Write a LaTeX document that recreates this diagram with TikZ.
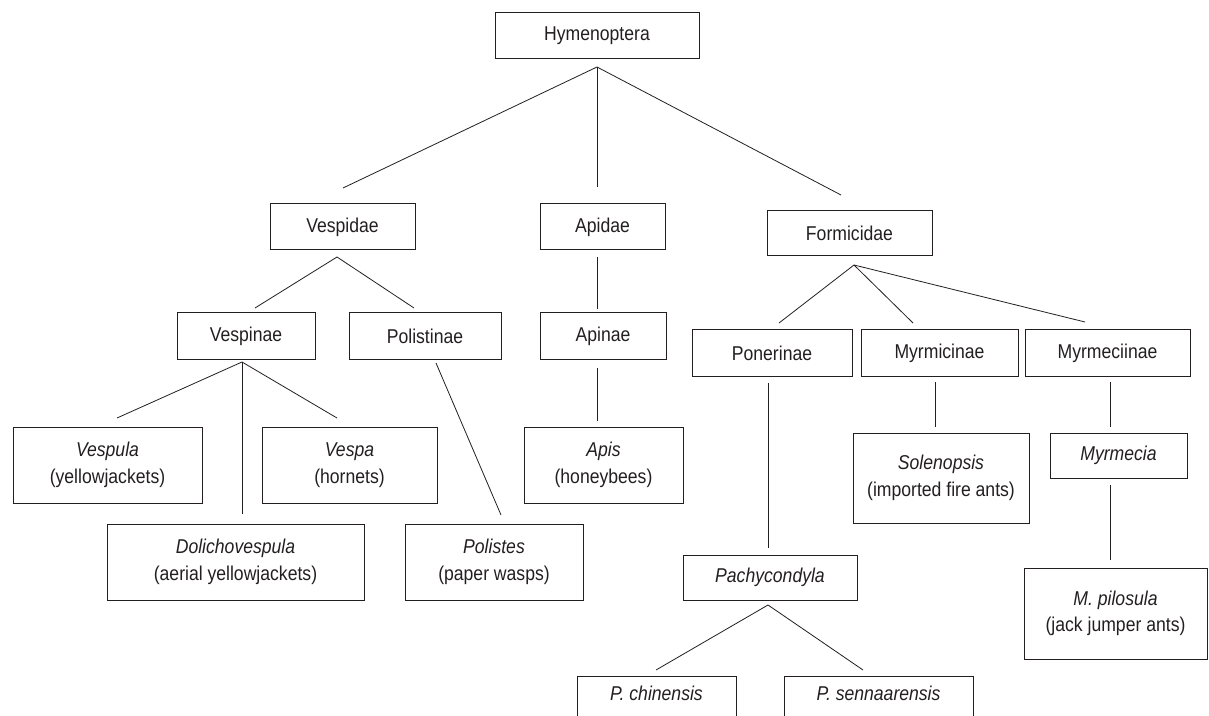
\documentclass[tikz,border=0pt]{standalone}
\usepackage{fontspec}
\setmainfont{Liberation Sans}[FakeStretch=0.88]
\usetikzlibrary{calc}
\definecolor{ink}{HTML}{231F20}
\newcommand\bx[6]{\node[box, minimum width={(#4-#2)*0.75pt}, minimum height={(#5-#3)*0.75pt}] (#1) at ({(#2+#4)/2},{(#3+#5)/2}) {#6};}
\begin{document}
\begin{tikzpicture}[x=0.75pt,y=-0.75pt,
  box/.style={draw=ink, line width=0.75pt, inner sep=0pt, align=center, text=ink,
    font=\fontsize{15}{19.8}\selectfont},
  link/.style={draw=ink, line width=0.6pt}]
\useasboundingbox (0,0) rectangle (1209,716);
\clip (0,0) rectangle (1209,716);
% boxes
\bx{hym}{495}{13}{699}{59}{Hymenoptera}
\bx{vesp}{270}{204}{415}{250}{Vespidae}
\bx{apid}{540}{204}{665}{250}{Apidae}
\bx{form}{767}{211}{932}{256}{Formicidae}
\bx{vespinae}{177}{313}{315}{359}{Vespinae}
\bx{polist}{349}{313}{501}{359}{Polistinae}
\bx{apinae}{540}{313}{666}{359}{Apinae}
\bx{poner}{692}{330}{852}{376}{Ponerinae}
\bx{myrmic}{861}{330}{1018}{376}{Myrmicinae}
\bx{myrmec}{1025}{330}{1190}{376}{Myrmeciinae}
\bx{vespula}{13}{427}{202}{503}{\textit{Vespula}\\(yellowjackets)}
\bx{vespa}{262}{427}{437}{503}{\textit{Vespa}\\(hornets)}
\bx{apis}{524}{427}{683}{503}{\textit{Apis}\\(honeybees)}
\bx{solen}{853}{433}{1029}{523}{\textit{Solenopsis}\\(imported fire ants)}
\bx{myrmecia}{1050}{433}{1187}{478}{\textit{Myrmecia}}
\bx{doli}{107}{524}{364}{600}{\textit{Dolichovespula}\\(aerial yellowjackets)}
\bx{polistes}{405}{524}{583}{600}{\textit{Polistes}\\(paper wasps)}
\bx{pachy}{683}{555}{857}{600}{\textit{Pachycondyla}}
\bx{pilos}{1024}{568}{1207}{659}{\textit{M. pilosula}\\(jack jumper ants)}
\bx{pchin}{577}{676}{736}{756}{}
\bx{psenn}{784}{676}{973}{756}{}
\node[box, draw=none] (pchinT) at ($(pchin.north)+(0,18)$) {\textit{P. chinensis}};
\node[box, draw=none] (psennT) at ($(psenn.north)+(0,18)$) {\textit{P. sennaarensis}};
% connector coordinates
\coordinate (hymA) at (597,67);
\coordinate (vespE) at (343,188);
\coordinate (apidE) at (597,187);
\coordinate (formE) at (841,195);
\coordinate (vespA) at (337,257);
\coordinate (vespinaeE) at (255,308);
\coordinate (polistE) at (414,308);
\coordinate (apidA) at (597,257);
\coordinate (apinaeE) at (597,309);
\coordinate (vespinaeA) at (242,362);
\coordinate (vespulaE) at (117,418);
\coordinate (doliE) at (242,514);
\coordinate (vespaE) at (337,418);
\coordinate (polistA) at (436,363);
\coordinate (polistesE) at (501,515);
\coordinate (apinaeA) at (597,368);
\coordinate (apisE) at (597,421);
\coordinate (formA) at (854,265);
\coordinate (ponerE) at (779,323);
\coordinate (myrmicE) at (913,323);
\coordinate (myrmecE) at (1085,322);
\coordinate (ponerA) at (768,383);
\coordinate (pachyE) at (768,548);
\coordinate (myrmicA) at (935,382);
\coordinate (solenE) at (935,427);
\coordinate (myrmecA) at (1110,382);
\coordinate (myrmeciaE) at (1110,427);
\coordinate (myrmeciaA) at (1110,485);
\coordinate (pilosE) at (1110,560);
\coordinate (pachyA) at (768,605);
\coordinate (pchinE) at (656,670);
\coordinate (psennE) at (863,670);
% connectors
\draw[link] (hymA) -- (vespE);
\draw[link] (hymA) -- (apidE);
\draw[link] (hymA) -- (formE);
\draw[link] (vespA) -- (vespinaeE);
\draw[link] (vespA) -- (polistE);
\draw[link] (apidA) -- (apinaeE);
\draw[link] (vespinaeA) -- (vespulaE);
\draw[link] (vespinaeA) -- (doliE);
\draw[link] (vespinaeA) -- (vespaE);
\draw[link] (polistA) -- (polistesE);
\draw[link] (apinaeA) -- (apisE);
\draw[link] (formA) -- (ponerE);
\draw[link] (formA) -- (myrmicE);
\draw[link] (formA) -- (myrmecE);
\draw[link] (ponerA) -- (pachyE);
\draw[link] (myrmicA) -- (solenE);
\draw[link] (myrmecA) -- (myrmeciaE);
\draw[link] (myrmeciaA) -- (pilosE);
\draw[link] (pachyA) -- (pchinE);
\draw[link] (pachyA) -- (psennE);
\end{tikzpicture}
\end{document}
